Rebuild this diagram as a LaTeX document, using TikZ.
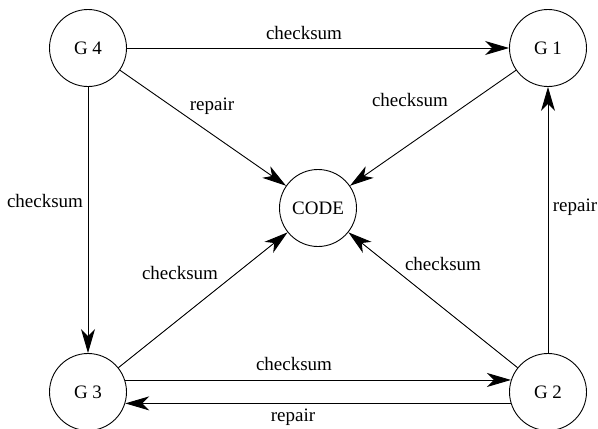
\documentclass[tikz,border=0pt]{standalone}
\usepackage{fontspec}
\setmainfont{Liberation Serif}
\usetikzlibrary{arrows.meta}
\begin{document}
\begin{tikzpicture}[x=1pt,y=-1pt,
  gnode/.style={draw,circle,minimum size=77pt,inner sep=0pt,line width=0.9pt},
  lbl/.style={inner sep=0pt},
  conn/.style={line width=0.9pt,-{Stealth[length=24pt,width=14pt,inset=7pt]}},
  font=\fontsize{19}{22}\selectfont]
\useasboundingbox (0,0) rectangle (598,429);
\node[gnode] (G4) at (88,48) {G 4};
\node[gnode] (G1) at (548,48) {G 1};
\node[gnode] (CODE) at (318,208) {CODE};
\node[gnode] (G3) at (88,392) {G 3};
\node[gnode] (G2) at (548,392) {G 2};
\draw[conn] (G4) -- (G1);
\draw[conn] (G4) -- (CODE);
\draw[conn] (G1) -- (CODE);
\draw[conn] (G4) -- (G3);
\draw[conn] (G3) -- (CODE);
\draw[conn] (G2) -- (CODE);
\draw[conn] (G2) -- (G1);
\draw[conn] (G3.18) -- (G2.162);
\draw[conn] (G2.-163) -- (G3.-17);
\node[lbl] (l1) at (304,33) {checksum};
\node[lbl] (l2) at (212,106) {repair};
\node[lbl] (l3) at (410,100) {checksum};
\node[lbl] (l4) at (45,201) {checksum};
\node[lbl] (l5) at (180,273) {checksum};
\node[lbl] (l6) at (443,264) {checksum};
\node[lbl] (l7) at (575,207) {repair};
\node[lbl] (l8) at (294,364) {checksum};
\node[lbl] (l9) at (293,417) {repair};
\end{tikzpicture}
\end{document}
